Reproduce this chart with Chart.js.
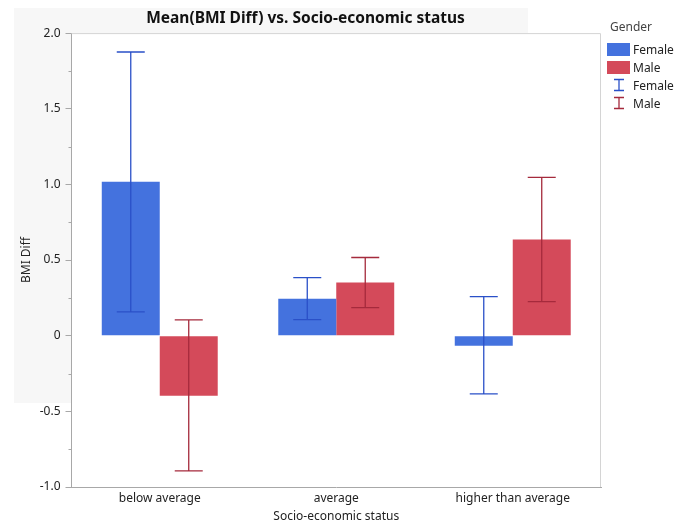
<!DOCTYPE html>
<html>
<head>
<meta charset="utf-8">
<script src="https://cdn.jsdelivr.net/npm/chart.js@4.4.1/dist/chart.umd.min.js"></script>
<style>
  html, body { margin: 0; padding: 0; background: #fff; }
  #wrap { position: relative; width: 676px; height: 526px; font-family: "Noto Sans", sans-serif; }
  #legend { position: absolute; left: 607px; top: 18px; font-size: 12px; color: #222; }
  #legend .ttl { color: #444; margin-bottom: 5px; margin-left: 3px; }
  #legend .row { display: flex; align-items: center; height: 18px; }
  #legend .sw { width: 23px; height: 13px; margin-right: 3px; }
  #legend svg { width: 23px; height: 14px; margin-right: 3px; }
</style>
</head>
<body>
<div id="wrap">
  <canvas id="myChart" width="676" height="526"></canvas>
  <div id="legend">
    <div class="ttl">Gender</div>
    <div class="row"><div class="sw" style="background:#4472de"></div>Female</div>
    <div class="row"><div class="sw" style="background:#d44a5a"></div>Male</div>
    <div class="row"><svg viewBox="0 0 23 14"><path d="M7 1.5H17M12 1.5V12.5M7 12.5H17" stroke="#2a50c8" stroke-width="1.3" fill="none"/></svg>Female</div>
    <div class="row"><svg viewBox="0 0 23 14"><path d="M7 1.5H17M12 1.5V12.5M7 12.5H17" stroke="#a52a3c" stroke-width="1.3" fill="none"/></svg>Male</div>
  </div>
</div>
<script>
// Daten
const categories = ["below average", "average", "higher than average"];
const femaleMean = [1.017, 0.245, -0.066];
const maleMean = [-0.397, 0.351, 0.636];
const femaleLow = [0.157, 0.106, -0.384];
const femaleHigh = [1.875, 0.384, 0.258];
const maleLow = [-0.894, 0.185, 0.225];
const maleHigh = [0.104, 0.517, 1.046];
const yTicks = [-1.0, -0.5, 0, 0.5, 1.0, 1.5, 2.0];
const yMinorTicks = [-0.75, -0.25, 0.25, 0.75, 1.25, 1.75];

const errorBars = [
  { low: femaleLow, high: femaleHigh, color: '#2a50c8' },
  { low: maleLow, high: maleHigh, color: '#a52a3c' }
];

// Hintergrund, Rahmen, Fehlerbalken
const decoPlugin = {
  id: 'deco',
  beforeDraw(chart) {
    const c = chart.ctx;
    const a = chart.chartArea;
    c.save();
    c.fillStyle = '#f7f7f7';
    c.fillRect(14, 8, 514, 395);
    c.fillStyle = '#ffffff';
    c.fillRect(a.left, a.top, a.right - a.left, a.bottom - a.top);
    c.restore();
  },
  afterDatasetsDraw(chart) {
    const c = chart.ctx;
    const y = chart.scales.y;
    c.save();
    c.lineWidth = 1.3;
    errorBars.forEach((eb, i) => {
      const meta = chart.getDatasetMeta(i);
      meta.data.forEach((bar, j) => {
        const x = bar.x;
        const y1 = y.getPixelForValue(eb.high[j]);
        const y2 = y.getPixelForValue(eb.low[j]);
        c.strokeStyle = eb.color;
        c.beginPath();
        c.moveTo(x, y1); c.lineTo(x, y2);
        c.moveTo(x - 14, y1); c.lineTo(x + 14, y1);
        c.moveTo(x - 14, y2); c.lineTo(x + 14, y2);
        c.stroke();
      });
    });
    c.restore();
  },
  afterDraw(chart) {
    const c = chart.ctx;
    const a = chart.chartArea;
    const y = chart.scales.y;
    c.save();
    c.lineWidth = 1;
    c.strokeStyle = '#d4d4d4';
    c.beginPath();
    c.moveTo(a.left, a.top + 0.5); c.lineTo(a.right - 0.5, a.top + 0.5); c.lineTo(a.right - 0.5, a.bottom);
    c.stroke();
    c.strokeStyle = '#a8a8a8';
    c.beginPath();
    yMinorTicks.forEach(v => {
      const py = Math.round(y.getPixelForValue(v)) + 0.5;
      c.moveTo(a.left - 3, py); c.lineTo(a.left, py);
    });
    c.stroke();
    c.restore();
  }
};

const ctx = document.getElementById("myChart").getContext("2d");
const myChart = new Chart(ctx, {
  type: 'bar',
  data: {
    labels: categories,
    datasets: [
      { label: 'Female', data: femaleMean, backgroundColor: '#4472de' },
      { label: 'Male', data: maleMean, backgroundColor: '#d44a5a' }
    ]
  },
  options: {
    responsive: false,
    animation: false,
    events: [],
    layout: { padding: { left: 10, right: 75, top: 0, bottom: 0 } },
    datasets: { bar: { categoryPercentage: 0.657, barPercentage: 1.0 } },
    plugins: {
      legend: { display: false },
      tooltip: { enabled: false },
      title: {
        display: true,
        text: 'Mean(BMI Diff) vs. Socio-economic status',
        color: '#111',
        font: { family: 'Noto Sans', size: 15.5, weight: 'bold' },
        padding: { top: 9, bottom: 5.5 }
      }
    },
    scales: {
      x: {
        grid: { display: false, drawTicks: false },
        border: { display: true, color: '#a8a8a8', width: 1 },
        ticks: { color: '#222', font: { family: 'Noto Sans', size: 12 }, padding: 4 },
        title: { display: true, text: 'Socio-economic status', color: '#222', font: { family: 'Noto Sans', size: 12 }, padding: { top: 0, bottom: 2 } },
        afterFit(scale) { scale.height = 39; }
      },
      y: {
        min: -1.0,
        max: 2.0,
        afterBuildTicks(scale) { scale.ticks = yTicks.map(v => ({ value: v })); },
        grid: { drawOnChartArea: false, drawTicks: true, tickLength: 6, color: '#a8a8a8' },
        border: { display: true, color: '#a8a8a8', width: 1 },
        ticks: {
          color: '#222',
          font: { family: 'Noto Sans', size: 12 },
          padding: 5,
          callback: v => v === 0 ? '0' : v.toFixed(1)
        },
        title: { display: true, text: 'BMI Diff', color: '#222', font: { family: 'Noto Sans', size: 12 }, padding: { top: 9, bottom: 0 } },
        afterFit(scale) { scale.width = 61.5; }
      }
    }
  },
  plugins: [decoPlugin]
});
</script>
</body>
</html>
